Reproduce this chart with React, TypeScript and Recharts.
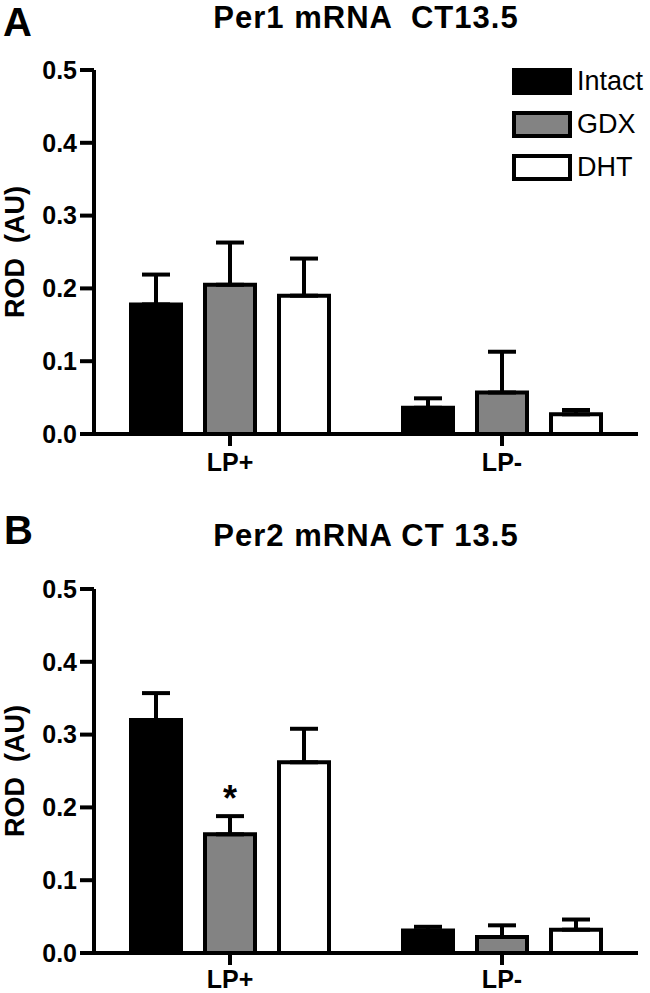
import React from 'react';
import { BarChart, Bar, XAxis, YAxis, ErrorBar, LabelList, Label } from 'recharts';

const categories = ['LP+', 'LP-'];
const seriesNames = ['Intact', 'GDX', 'DHT'];
const yTicks = [0, 0.1, 0.2, 0.3, 0.4, 0.5];

// Panel A: Per1 mRNA CT13.5
const per1Intact = [0.178, 0.036];
const per1IntactErr = [0.041, 0.013];
const per1Gdx = [0.205, 0.057];
const per1GdxErr = [0.058, 0.056];
const per1Dht = [0.19, 0.027];
const per1DhtErr = [0.051, 0.006];
const per1Sig = ['', ''];

// Panel B: Per2 mRNA CT 13.5
const per2Intact = [0.32, 0.031];
const per2IntactErr = [0.037, 0.005];
const per2Gdx = [0.163, 0.022];
const per2GdxErr = [0.025, 0.016];
const per2Dht = [0.262, 0.032];
const per2DhtErr = [0.046, 0.014];
const per2Sig = ['*', ''];

const FONT = '"Liberation Sans", Arial, Helvetica, sans-serif';
const GRAY = '#838383';
const seriesFills = ['#000000', GRAY, '#ffffff'];

type Row = {
  cat: string;
  intact: number;
  intactErr: number[];
  gdx: number;
  gdxErr: number[];
  dht: number;
  dhtErr: number[];
  sig: string;
};

function buildRows(
  intact: number[], intactErr: number[],
  gdx: number[], gdxErr: number[],
  dht: number[], dhtErr: number[],
  sig: string[]
): Row[] {
  return categories.map((cat, i) => ({
    cat,
    intact: intact[i],
    intactErr: [0, intactErr[i]],
    gdx: gdx[i],
    gdxErr: [0, gdxErr[i]],
    dht: dht[i],
    dhtErr: [0, dhtErr[i]],
    sig: sig[i],
  }));
}

const per1Data = buildRows(per1Intact, per1IntactErr, per1Gdx, per1GdxErr, per1Dht, per1DhtErr, per1Sig);
const per2Data = buildRows(per2Intact, per2IntactErr, per2Gdx, per2GdxErr, per2Dht, per2DhtErr, per2Sig);

const renderYLabel = (props: any) => {
  const vb = props.viewBox || {};
  const cy = (vb.y || 0) + (vb.height || 0) / 2;
  const cx = 15;
  return (
    <text
      x={cx}
      y={cy}
      transform={`rotate(-90, ${cx}, ${cy})`}
      textAnchor="middle"
      dominantBaseline="central"
      fontFamily={FONT}
      fontWeight="bold"
      fontSize={27}
      fill="#000"
      style={{ whiteSpace: 'pre' }}
    >
      {'ROD  (AU)'}
    </text>
  );
};

const LegendBox = () => (
  <div style={{ position: 'absolute', left: 512, top: 68, fontFamily: FONT }}>
    {seriesNames.map((name, i) => (
      <div key={name} style={{ display: 'flex', alignItems: 'center', height: 27, marginBottom: 16 }}>
        <svg width={60} height={27} style={{ display: 'block' }}>
          <rect x={2} y={2} width={56} height={23} fill={seriesFills[i]} stroke="#000" strokeWidth={4} />
        </svg>
        <span style={{ marginLeft: 5, fontSize: 27, lineHeight: '27px', color: '#000' }}>{name}</span>
      </div>
    ))}
  </div>
);

function Panel({ data, height, bottom, xMargin }: { data: Row[]; height: number; bottom: number; xMargin: number }) {
  const renderSig = (props: any) => {
    const { x, y, width, height: h, index, value } = props;
    if (!value) return null;
    const row = data[index];
    const capY = y - (row.gdxErr[1] * h) / row.gdx;
    return (
      <text x={x + width / 2} y={capY - 5} textAnchor="middle" fontFamily={FONT} fontWeight="bold" fontSize={36} fill="#000">
        {value}
      </text>
    );
  };
  const tickStyle = { fill: '#000', fontSize: 25, fontWeight: 'bold', fontFamily: FONT };
  return (
    <BarChart
      width={650}
      height={height}
      data={data}
      margin={{ top: 70, right: 12, left: 0, bottom }}
      barSize={50}
      barGap={24}
      style={{ overflow: 'visible' }}
    >
      <XAxis
        dataKey="cat"
        height={40}
        tickSize={12}
        tickMargin={xMargin}
        axisLine={{ stroke: '#000', strokeWidth: 4 }}
        tickLine={{ stroke: '#000', strokeWidth: 4 }}
        tick={tickStyle}
      />
      <YAxis
        width={94}
        domain={[0, 0.5]}
        ticks={yTicks}
        interval={0}
        tickFormatter={(v: number) => v.toFixed(1)}
        tickSize={14}
        tickMargin={3}
        axisLine={{ stroke: '#000', strokeWidth: 4 }}
        tickLine={{ stroke: '#000', strokeWidth: 4 }}
        tick={tickStyle}
      >
        <Label content={renderYLabel} />
      </YAxis>
      <Bar dataKey="intact" name="Intact" fill={seriesFills[0]} stroke="#000" strokeWidth={4} isAnimationActive={false}>
        <ErrorBar dataKey="intactErr" width={14} stroke="#000" strokeWidth={4} direction="y" isAnimationActive={false} />
      </Bar>
      <Bar dataKey="gdx" name="GDX" fill={seriesFills[1]} stroke="#000" strokeWidth={4} isAnimationActive={false}>
        <ErrorBar dataKey="gdxErr" width={14} stroke="#000" strokeWidth={4} direction="y" isAnimationActive={false} />
        <LabelList dataKey="sig" content={renderSig} />
      </Bar>
      <Bar dataKey="dht" name="DHT" fill={seriesFills[2]} stroke="#000" strokeWidth={4} isAnimationActive={false}>
        <ErrorBar dataKey="dhtErr" width={14} stroke="#000" strokeWidth={4} direction="y" isAnimationActive={false} />
      </Bar>
    </BarChart>
  );
}

const textBase: React.CSSProperties = {
  position: 'absolute',
  fontFamily: FONT,
  fontWeight: 'bold',
  color: '#000',
  whiteSpace: 'pre',
  margin: 0,
};

export default function App() {
  return (
    <div style={{ position: 'absolute', left: 0, top: 0, width: 650, height: 993, background: '#fff', overflow: 'hidden' }}>
      <div style={{ position: 'absolute', left: 0, top: 0 }}>
        <Panel data={per1Data} height={519} bottom={45} xMargin={7} />
      </div>
      <div style={{ position: 'absolute', left: 0, top: 519 }}>
        <Panel data={per2Data} height={474} bottom={0} xMargin={5} />
      </div>
      <LegendBox />
      <div style={{ ...textBase, left: 3, top: 0, fontSize: 40, lineHeight: '45px' }}>A</div>
      <div style={{ ...textBase, left: 4, top: 508, fontSize: 40, lineHeight: '45px' }}>B</div>
      <div style={{ ...textBase, left: 94, width: 544, textAlign: 'center', top: 2, fontSize: 31, lineHeight: '31px', letterSpacing: 1 }}>
        {'Per1 mRNA  CT13.5'}
      </div>
      <div style={{ ...textBase, left: 94, width: 544, textAlign: 'center', top: 520, fontSize: 31, lineHeight: '31px', letterSpacing: 1 }}>
        {'Per2 mRNA CT 13.5'}
      </div>
    </div>
  );
}
